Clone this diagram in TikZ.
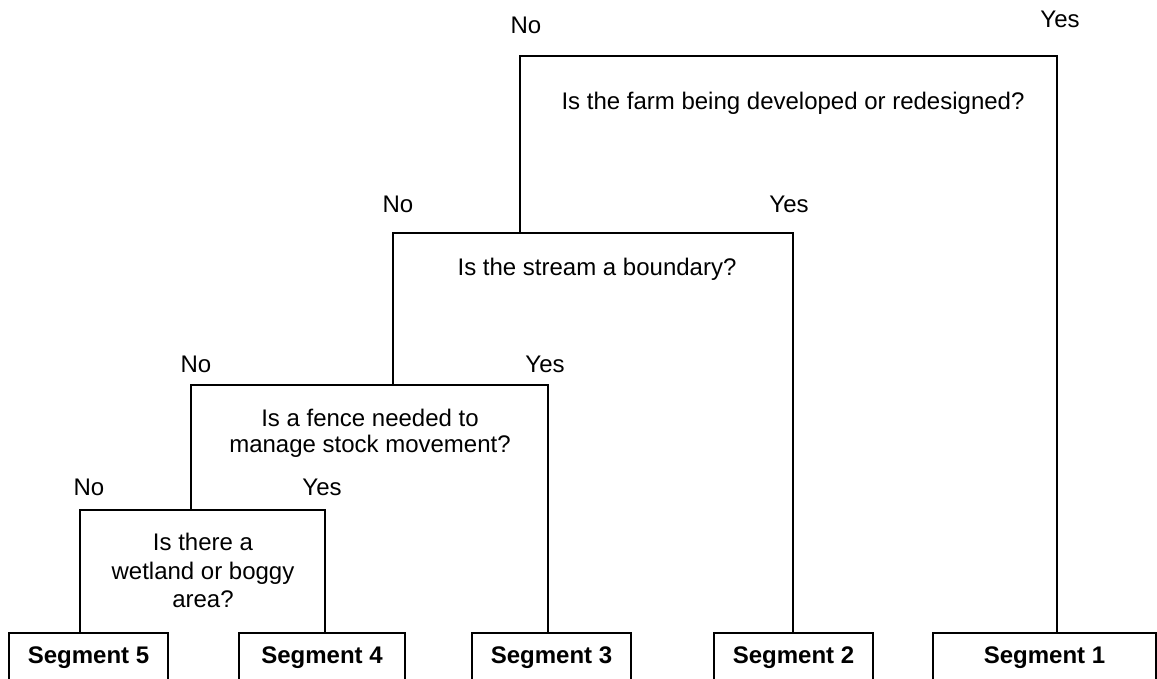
\documentclass[tikz,border=0pt]{standalone}
\usepackage{fontspec}
\setmainfont{Liberation Sans}
\begin{document}
\begin{tikzpicture}[x=1pt,y=-1pt,
  frame/.style={draw=black, line width=2pt, line join=miter},
  qtext/.style={anchor=north, inner sep=0pt, align=center, font=\fontsize{24}{26}\selectfont},
  lbl/.style={anchor=base, inner sep=0pt, font=\fontsize{24}{26}\selectfont},
  seg/.style={draw=black, line width=2pt, anchor=north, inner xsep=0pt, inner ysep=12.8pt,
    text height=17.2pt, text depth=40pt, font=\bfseries\fontsize{24}{26}\selectfont}]
\useasboundingbox (0,0) rectangle (1157,678);
% segment boxes
\node[seg, minimum width=159pt] (s5) at (88.5,632) {Segment 5};
\node[seg, minimum width=166pt] (s4) at (322,632) {Segment 4};
\node[seg, minimum width=159pt] (s3) at (551.5,632) {Segment 3};
\node[seg, minimum width=159pt] (s2) at (793.5,632) {Segment 2};
\node[seg, minimum width=223pt] (s1) at (1044.5,632) {Segment 1};
% frame corners
\coordinate (q1l) at (520,56);  \coordinate (q1r) at (1057,56);
\coordinate (q2l) at (393,233); \coordinate (q2r) at (793,233);
\coordinate (q3l) at (191,385); \coordinate (q3r) at (548,385);
\coordinate (q4l) at (80,510);  \coordinate (q4r) at (325,510);
% frames
\draw[frame] (q1l |- q2l) -- (q1l) -- (q1r) -- (q1r |- s1.north);
\draw[frame] (q2l |- q3l) -- (q2l) -- (q2r) -- (q2r |- s2.north);
\draw[frame] (q3l |- q4l) -- (q3l) -- (q3r) -- (q3r |- s3.north);
\draw[frame] (q4l |- s5.north) -- (q4l) -- (q4r) -- (q4r |- s4.north);
% questions
\node[qtext] (q1) at (793,92) {Is the farm being developed or redesigned?};
\node[qtext] (q2) at (597,258) {Is the stream a boundary?};
\node[qtext] (q3) at (370,409) {Is a fence needed to\\manage stock movement?};
\node[qtext, font=\fontsize{24}{28.5}\selectfont] (q4) at (203,533) {Is there a\\wetland or boggy\\area?};
% labels
\node[lbl] (n1) at (526,33) {No};
\node[lbl] (y1) at (1060,27) {Yes};
\node[lbl] (n2) at (398,212) {No};
\node[lbl] (y2) at (789,212) {Yes};
\node[lbl] (n3) at (196,372) {No};
\node[lbl] (y3) at (545,372) {Yes};
\node[lbl] (n4) at (89,495) {No};
\node[lbl] (y4) at (322,495) {Yes};
\end{tikzpicture}
\end{document}
